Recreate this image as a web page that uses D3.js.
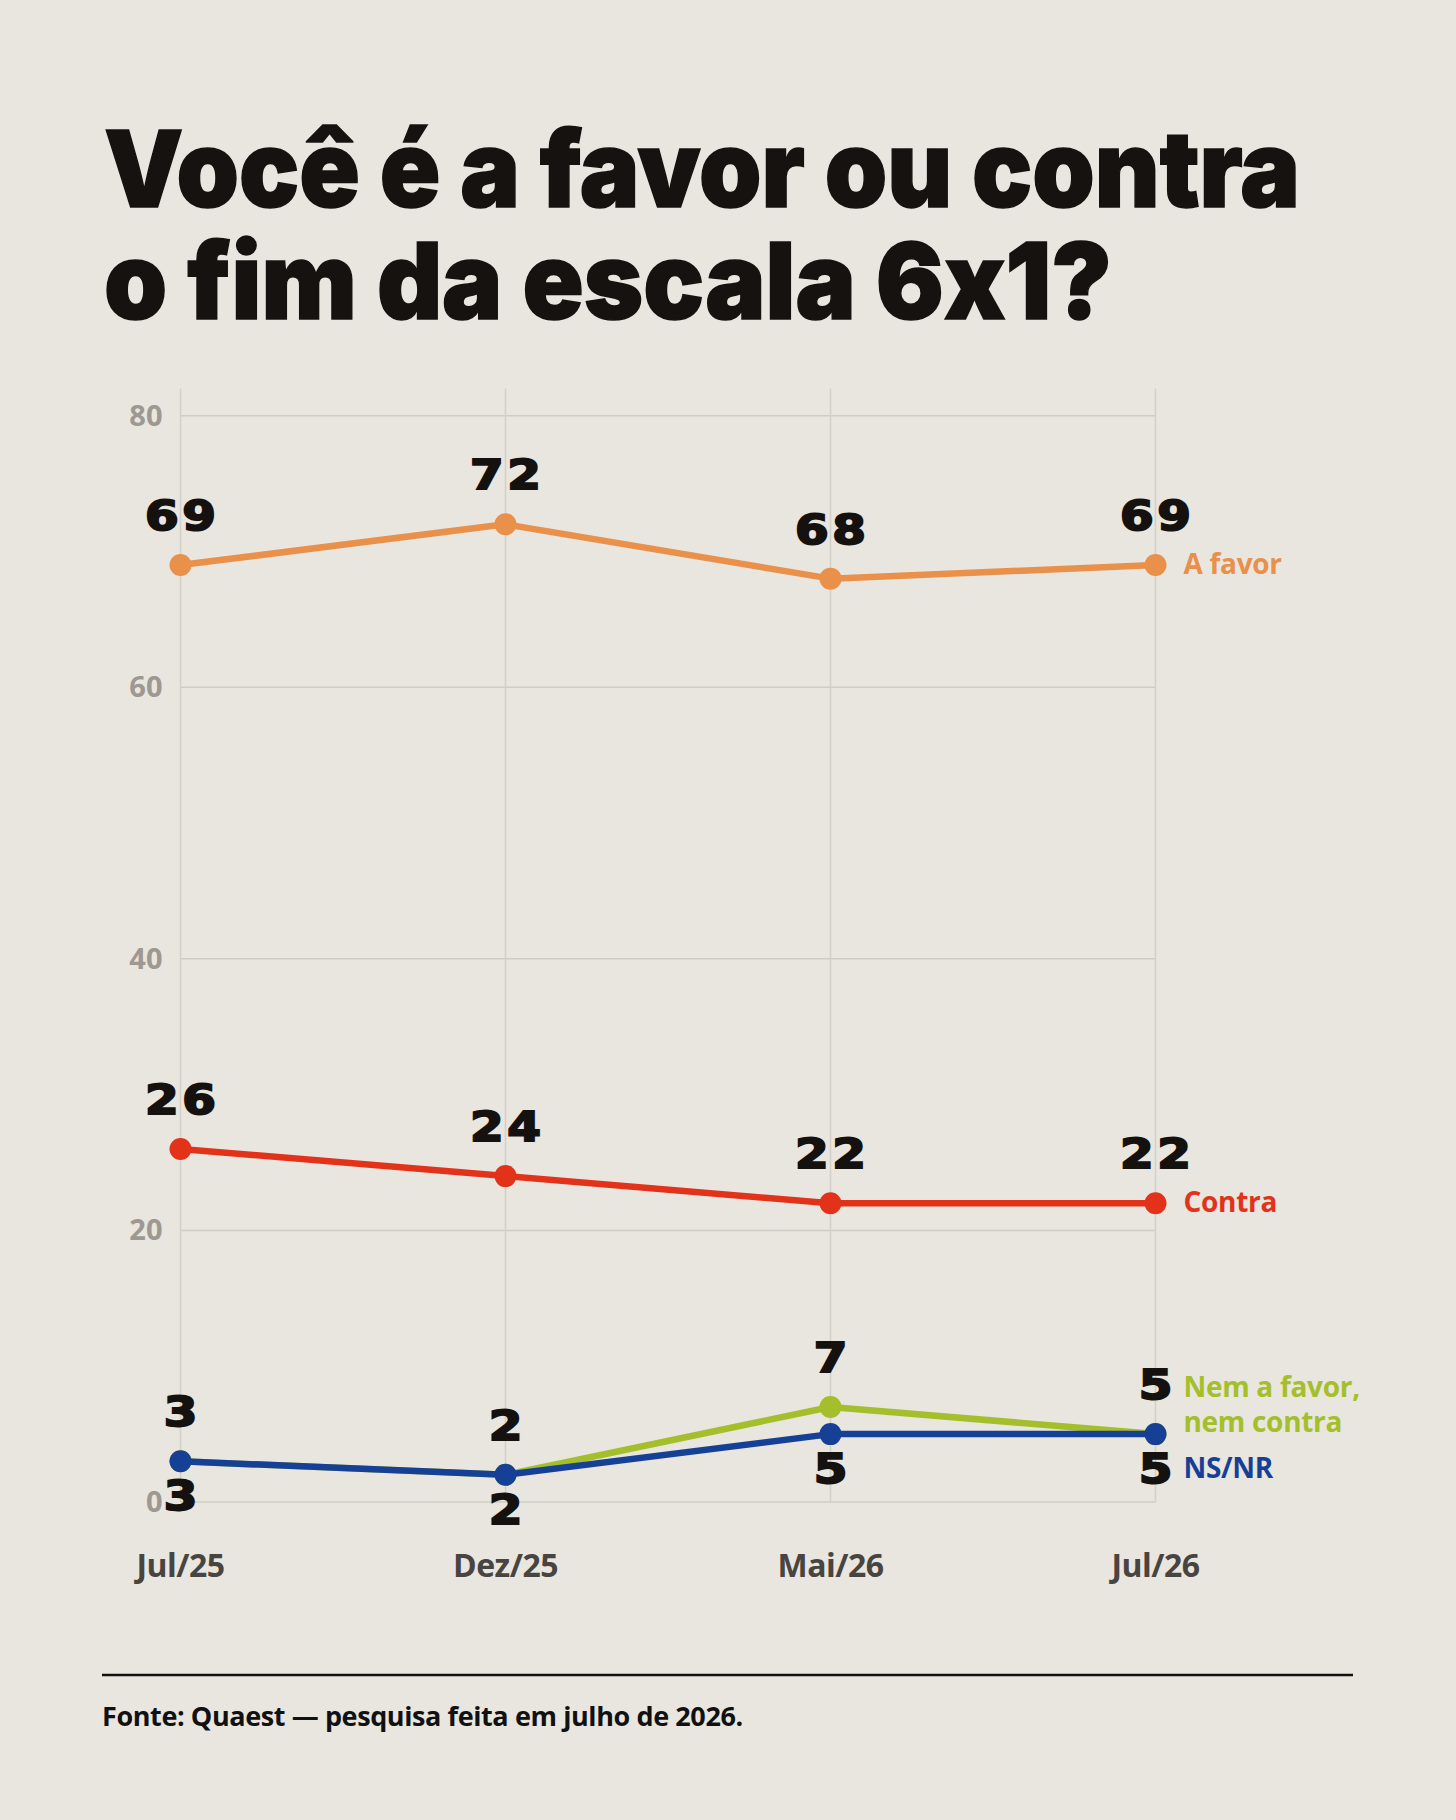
<!DOCTYPE html>
<html>
<head>
<meta charset="utf-8">
<script src="https://cdn.jsdelivr.net/npm/d3@7"></script>
<style>
  html, body { margin: 0; padding: 0; background: #e8e6df; }
  svg { display: block; }
  .title text { font-feature-settings: "calt" 0; }
</style>
</head>
<body>
<svg id="chart"></svg>
<script>
// <========================== Data ==========================>
const months = ["Jul/25", "Dez/25", "Mai/26", "Jul/26"];
const aFavor = [69, 72, 68, 69];
const contra = [26, 24, 22, 22];
const nemNem = [3, 2, 7, 5];
const nsNr = [3, 2, 5, 5];
const yTicks = [0, 20, 40, 60, 80];
const titleLines = ["Você é a favor ou contra", "o fim da escala 6x1?"];
const sourceText = "Fonte: Quaest — pesquisa feita em julho de 2026.";

// series drawn in this order (blue last so it sits on top of green)
const series = [
  { key: "A favor", values: aFavor, color: "#e9904a", label: "above", legend: [["A favor", 9]] },
  { key: "Contra", values: contra, color: "#e2321a", label: "above", legend: [["Contra", 9]] },
  { key: "Nem", values: nemNem, color: "#a4bf2b", label: "above", legend: [["Nem a favor,", -37], ["nem contra", -2]] },
  { key: "NS/NR", values: nsNr, color: "#163f96", label: "below", legend: [["NS/NR", 44]] }
];

const width = 1456, height = 1820;
const svg = d3.select("#chart").attr("width", width).attr("height", height);

// <========================== Scales ==========================>
const x = d3.scalePoint().domain(months).range([180.5, 1155.5]);
const y = d3.scaleLinear().domain([0, 80]).range([1502, 415.7]);

// <========================== Title ==========================>
const titleWidths = [1196, 1008];
const title = svg.append("g").attr("class", "title")
  .append("text")
  .attr("font-family", "Inter, Roboto, sans-serif")
  .attr("font-weight", 900)
  .attr("font-size", 106)
  .attr("fill", "#15120f")
  .attr("stroke", "#15120f")
  .attr("stroke-width", 1.5);

titleLines.forEach((t, i) => {
  title.append("tspan")
    .attr("x", 104)
    .attr("y", 207 + i * 112)
    .attr("textLength", titleWidths[i])
    .attr("lengthAdjust", "spacingAndGlyphs")
    .text(t);
});

// <========================== Grid ==========================>
const grid = svg.append("g").attr("class", "grid");
grid.selectAll(".hline")
  .data(yTicks)
  .enter()
  .append("line")
  .attr("x1", x.range()[0])
  .attr("x2", x.range()[1])
  .attr("y1", d => y(d))
  .attr("y2", d => y(d))
  .attr("stroke", "#cfccc5")
  .attr("stroke-width", 1.5);

grid.selectAll(".vline")
  .data(months)
  .enter()
  .append("line")
  .attr("x1", d => x(d))
  .attr("x2", d => x(d))
  .attr("y1", y(82))
  .attr("y2", y(0))
  .attr("stroke", "#d3d0c9")
  .attr("stroke-width", 1.5);

// y tick labels
svg.append("g")
  .selectAll("text")
  .data(yTicks)
  .enter()
  .append("text")
  .attr("x", x.range()[0] - 18)
  .attr("y", d => y(d) + 10)
  .attr("text-anchor", "end")
  .attr("font-family", "Open Sans, sans-serif")
  .attr("font-weight", 700)
  .attr("font-size", 29)
  .attr("fill", "#9d9891")
  .text(d => d);

// x labels
svg.append("g")
  .selectAll("text")
  .data(months)
  .enter()
  .append("text")
  .attr("x", d => x(d))
  .attr("y", 1577)
  .attr("text-anchor", "middle")
  .attr("font-family", "Open Sans, sans-serif")
  .attr("font-weight", 700)
  .attr("font-size", 32)
  .attr("letter-spacing", -0.5)
  .attr("fill", "#48443f")
  .text(d => d);

// <========================== Lines ==========================>
const lineGen = d3.line()
  .x((d, i) => x(months[i]))
  .y(d => y(d))
  .curve(d3.curveLinear);

const lineGroup = svg.append("g").attr("class", "lines");
series.forEach(s => {
  const g = lineGroup.append("g");
  g.append("path")
    .attr("d", lineGen(s.values))
    .attr("fill", "none")
    .attr("stroke", s.color)
    .attr("stroke-width", 6.5)
    .attr("stroke-linejoin", "round");
  g.selectAll("circle")
    .data(s.values)
    .enter()
    .append("circle")
    .attr("cx", (d, i) => x(months[i]))
    .attr("cy", d => y(d))
    .attr("r", 11)
    .attr("fill", s.color);
});

// <========================== Value labels ==========================>
const labelGroup = svg.append("g").attr("class", "values");
series.forEach(s => {
  labelGroup.selectAll(null)
    .data(s.values)
    .enter()
    .append("g")
    .attr("transform", (d, i) =>
      `translate(${x(months[i])}, ${y(d) + (s.label === "above" ? -35 : 49)})`)
    .append("text")
    .attr("transform", "scale(1.18,1)")
    .attr("text-anchor", "middle")
    .attr("font-family", "DejaVu Sans, sans-serif")
    .attr("font-weight", 700)
    .attr("font-size", 41)
    .attr("letter-spacing", 3)
    .attr("dx", 1.5)
    .attr("fill", "#14110e")
    .attr("stroke", "#14110e")
    .attr("stroke-width", 2)
    .text(d => d);
});

// <========================== Series labels ==========================>
const legend = svg.append("g").attr("class", "legend");
series.forEach(s => {
  const last = s.values[s.values.length - 1];
  s.legend.forEach(([txt, off]) => {
    legend.append("text")
      .attr("x", x.range()[1] + 28)
      .attr("y", y(last) + off)
      .attr("font-family", "Open Sans, sans-serif")
      .attr("font-weight", 700)
      .attr("font-size", 28)
      .attr("letter-spacing", -0.3)
      .attr("fill", s.color)
      .text(txt);
  });
});

// <========================== Footer ==========================>
svg.append("line")
  .attr("x1", 102)
  .attr("x2", 1353)
  .attr("y1", 1675)
  .attr("y2", 1675)
  .attr("stroke", "#111")
  .attr("stroke-width", 2.5);

svg.append("text")
  .attr("x", 102)
  .attr("y", 1726)
  .attr("font-family", "Open Sans, sans-serif")
  .attr("font-weight", 700)
  .attr("font-size", 27)
  .attr("letter-spacing", -0.4)
  .attr("fill", "#111")
  .text(sourceText);
</script>
</body>
</html>
